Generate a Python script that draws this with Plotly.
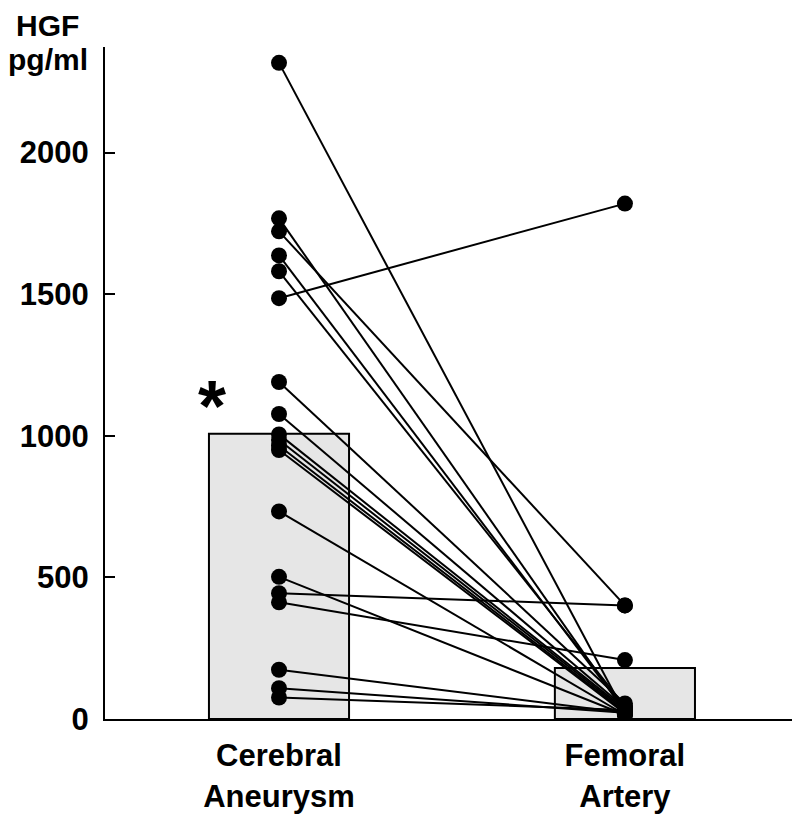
import plotly.graph_objects as go

# ---- data ----
groups = ["Cerebral<br>Aneurysm", "Femoral<br>Artery"]
group_means = [1007, 180]
cerebral = [2317, 1768, 1722, 1637, 1581, 1486, 1190, 1077, 1005, 985, 965, 950,
            733, 502, 444, 412, 174, 109, 76]
femoral = [20, 25, 401, 30, 45, 1820, 55, 40, 35, 30, 25, 20,
           15, 15, 401, 208, 22, 22, 32]
y_ticks = [0, 500, 1000, 1500, 2000]
y_label_top = "HGF"
y_label_unit = "pg/ml"
sig_mark = "*"

FONT = "Liberation Sans, Arial, sans-serif"
FS = 31
xpos = [0, 1]

fig = go.Figure()
fig.add_trace(go.Bar(x=xpos, y=group_means, width=0.405,
                     marker=dict(color="#e6e6e6", line=dict(color="black", width=2)),
                     hoverinfo="skip", showlegend=False))

lx, ly = [], []
for a, b in zip(cerebral, femoral):
    lx += [xpos[0], xpos[1], None]
    ly += [a, b, None]
fig.add_trace(go.Scatter(x=lx, y=ly, mode="lines",
                         line=dict(color="black", width=2), showlegend=False))
fig.add_trace(go.Scatter(x=[xpos[0]] * len(cerebral) + [xpos[1]] * len(femoral),
                         y=cerebral + femoral, mode="markers",
                         marker=dict(color="black", size=16), showlegend=False))

fig.add_annotation(x=-0.194, y=1106, text=sig_mark, showarrow=False,
                   font=dict(family=FONT, size=72, color="black"),
                   xanchor="center", yanchor="middle")
fig.add_annotation(xref="paper", yref="paper", x=-0.083, y=1.0579, text=y_label_top,
                   showarrow=False, borderpad=0,
                   font=dict(family=FONT, size=30, color="black", weight="bold"),
                   xanchor="center", yanchor="top")
fig.add_annotation(xref="paper", yref="paper", x=-0.083, y=1.0579 - 34 / 674,
                   text=y_label_unit, showarrow=False, borderpad=0,
                   font=dict(family=FONT, size=30, color="black", weight="bold"),
                   xanchor="center", yanchor="top")

fig.update_layout(
    width=792, height=814,
    margin=dict(l=97, r=8, t=39, b=101),
    plot_bgcolor="white", paper_bgcolor="white",
    font=dict(family=FONT, size=FS, color="black", weight="bold"),
    xaxis=dict(range=[-0.503, 1.483], tickvals=xpos, ticktext=groups,
               showline=True, linecolor="black", linewidth=2, ticks="",
               showgrid=False, zeroline=False, ticklabelstandoff=8,
               tickfont=dict(family=FONT, size=FS, weight="bold")),
    yaxis=dict(range=[0, 2373], tickvals=y_ticks, showline=True, linecolor="black",
               linewidth=2, ticks="inside", ticklen=10, tickwidth=2, tickcolor="black",
               showgrid=False, zeroline=False, ticklabelstandoff=8,
               tickfont=dict(family=FONT, size=FS, weight="bold")),
)
fig.write_html("out.html")
